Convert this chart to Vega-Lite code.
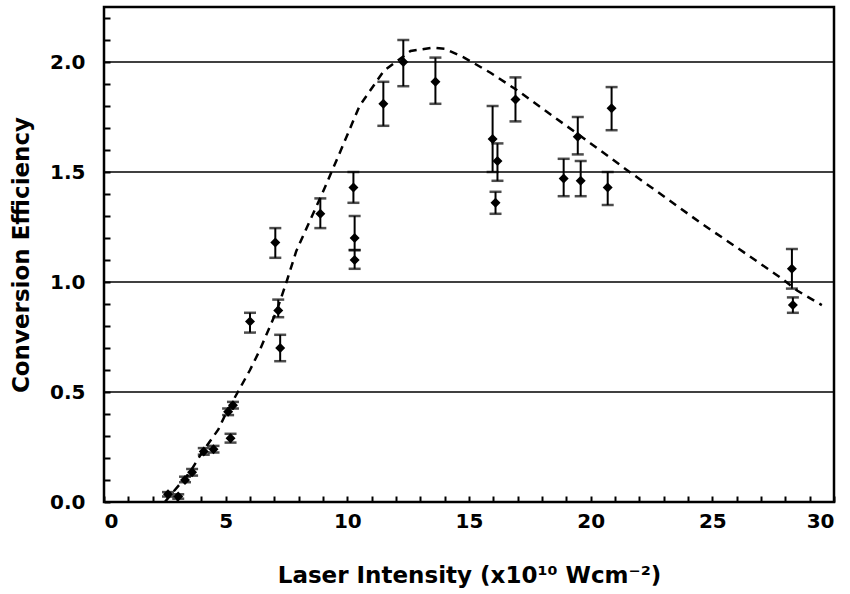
{
  "$schema": "https://vega.github.io/schema/vega-lite/v6.json",
  "width": 730,
  "height": 495,
  "autosize": {"type": "none"},
  "padding": {"left": 104, "top": 7, "right": 16, "bottom": 92},
  "background": "white",
  "config": {
    "view": {"stroke": "black", "strokeWidth": 2.5},
    "font": "DejaVu Sans",
    "axis": {
      "labelOverlap": false,
      "labelFont": "DejaVu Sans",
      "labelFontWeight": "bold",
      "labelFontSize": 20,
      "labelColor": "black",
      "titleFont": "DejaVu Sans",
      "titleFontWeight": "bold",
      "titleFontSize": 23,
      "titleColor": "black",
      "ticks": true,
      "tickColor": "black",
      "tickWidth": 2,
      "tickSize": 6,
      "offset": -6,
      "domain": false,
      "grid": false
    },
    "axisX": {"labelPadding": 9, "titlePadding": 33},
    "axisY": {"labelPadding": 19, "titlePadding": 16}
  },
  "datasets": {
    "pts": [
      {"x": 2.63, "y": 0.035, "lo": 0.025, "hi": 0.045},
      {"x": 3.05, "y": 0.025, "lo": 0.015, "hi": 0.035},
      {"x": 3.33, "y": 0.1, "lo": 0.09, "hi": 0.115},
      {"x": 3.62, "y": 0.135, "lo": 0.12, "hi": 0.15},
      {"x": 4.1, "y": 0.23, "lo": 0.215, "hi": 0.245},
      {"x": 4.5, "y": 0.24, "lo": 0.225, "hi": 0.255},
      {"x": 5.1, "y": 0.41, "lo": 0.395, "hi": 0.425},
      {"x": 5.3, "y": 0.44, "lo": 0.425, "hi": 0.455},
      {"x": 5.2, "y": 0.29, "lo": 0.27, "hi": 0.31},
      {"x": 6.0, "y": 0.82, "lo": 0.77, "hi": 0.86},
      {"x": 7.04, "y": 1.18, "lo": 1.11, "hi": 1.245},
      {"x": 7.16, "y": 0.87, "lo": 0.84, "hi": 0.92},
      {"x": 7.24, "y": 0.7, "lo": 0.64, "hi": 0.76},
      {"x": 8.89, "y": 1.31, "lo": 1.245, "hi": 1.38},
      {"x": 10.25, "y": 1.43, "lo": 1.36, "hi": 1.5},
      {"x": 10.3, "y": 1.2, "lo": 1.145, "hi": 1.3},
      {"x": 10.3, "y": 1.1, "lo": 1.06, "hi": 1.145},
      {"x": 11.48, "y": 1.81, "lo": 1.71, "hi": 1.91},
      {"x": 12.3, "y": 2.0, "lo": 1.89, "hi": 2.1},
      {"x": 13.62, "y": 1.91, "lo": 1.81, "hi": 2.02},
      {"x": 15.97, "y": 1.65, "lo": 1.5, "hi": 1.8},
      {"x": 16.17, "y": 1.55, "lo": 1.46, "hi": 1.63},
      {"x": 16.09, "y": 1.36, "lo": 1.31, "hi": 1.41},
      {"x": 16.91, "y": 1.83, "lo": 1.73, "hi": 1.93},
      {"x": 18.89, "y": 1.47, "lo": 1.39, "hi": 1.56},
      {"x": 19.59, "y": 1.46, "lo": 1.39, "hi": 1.55},
      {"x": 19.47, "y": 1.66, "lo": 1.58, "hi": 1.75},
      {"x": 20.7, "y": 1.43, "lo": 1.35, "hi": 1.5},
      {"x": 20.86, "y": 1.79, "lo": 1.69, "hi": 1.886},
      {"x": 28.27, "y": 1.06, "lo": 0.97, "hi": 1.15},
      {"x": 28.31, "y": 0.895, "lo": 0.86, "hi": 0.93}
    ],
    "curve": [
      {"x": 2.5, "y": 0.0},
      {"x": 2.8, "y": 0.04},
      {"x": 3.5, "y": 0.13},
      {"x": 4.0, "y": 0.22},
      {"x": 4.7, "y": 0.33},
      {"x": 5.0, "y": 0.4},
      {"x": 5.5, "y": 0.5},
      {"x": 6.0, "y": 0.6},
      {"x": 6.4, "y": 0.69},
      {"x": 7.1, "y": 0.87},
      {"x": 7.5, "y": 1.0},
      {"x": 7.9, "y": 1.14},
      {"x": 8.47, "y": 1.28},
      {"x": 9.0, "y": 1.41},
      {"x": 9.7, "y": 1.59},
      {"x": 10.5, "y": 1.8},
      {"x": 11.5, "y": 1.96},
      {"x": 12.6, "y": 2.05},
      {"x": 13.5, "y": 2.065},
      {"x": 14.0, "y": 2.06},
      {"x": 14.8, "y": 2.02},
      {"x": 15.9, "y": 1.95},
      {"x": 17.0, "y": 1.87},
      {"x": 18.5, "y": 1.75},
      {"x": 20.0, "y": 1.63},
      {"x": 21.6, "y": 1.5},
      {"x": 23.0, "y": 1.39},
      {"x": 24.5, "y": 1.27},
      {"x": 26.1, "y": 1.15},
      {"x": 27.8, "y": 1.02},
      {"x": 28.5, "y": 0.96},
      {"x": 29.5, "y": 0.895}
    ],
    "grid": [{"v": 0.5}, {"v": 1.0}, {"v": 1.5}, {"v": 2.0}]
  },
  "layer": [
    {
      "data": {"name": "grid"},
      "mark": {"type": "rule", "color": "black", "strokeWidth": 1.3},
      "encoding": {
        "y": {
          "field": "v",
          "type": "quantitative",
          "scale": {"domain": [0, 2.25], "nice": false, "zero": false},
          "title": "Conversion Efficiency",
          "axis": {
            "values": [0, 0.1, 0.2, 0.3, 0.4, 0.5, 0.6, 0.7, 0.8, 0.9, 1.0, 1.1, 1.2, 1.3, 1.4, 1.5, 1.6, 1.7, 1.8, 1.9, 2.0, 2.1, 2.2],
            "labelExpr": "abs(datum.value*2 - round(datum.value*2)) < 0.001 ? format(datum.value, '.1f') : ''"
          }
        }
      }
    },
    {
      "data": {"name": "curve"},
      "mark": {"type": "line", "color": "black", "strokeWidth": 2.5, "strokeDash": [8, 6]},
      "encoding": {
        "x": {
          "field": "x",
          "type": "quantitative",
          "scale": {"domain": [0, 30], "nice": false, "zero": false},
          "title": "Laser Intensity (x10¹⁰ Wcm⁻²)",
          "axis": {
            "values": [0, 1, 2, 3, 4, 5, 6, 7, 8, 9, 10, 11, 12, 13, 14, 15, 16, 17, 18, 19, 20, 21, 22, 23, 24, 25, 26, 27, 28, 29, 30],
            "labelExpr": "datum.value % 5 === 0 ? datum.label : ''"
          }
        },
        "y": {
          "field": "y",
          "type": "quantitative",
          "title": "Conversion Efficiency",
          "axis": {
            "values": [0, 0.1, 0.2, 0.3, 0.4, 0.5, 0.6, 0.7, 0.8, 0.9, 1.0, 1.1, 1.2, 1.3, 1.4, 1.5, 1.6, 1.7, 1.8, 1.9, 2.0, 2.1, 2.2],
            "labelExpr": "abs(datum.value*2 - round(datum.value*2)) < 0.001 ? format(datum.value, '.1f') : ''"
          }
        }
      }
    },
    {
      "data": {"name": "pts"},
      "mark": {"type": "rule", "color": "black", "strokeWidth": 2},
      "encoding": {
        "x": {
          "field": "x",
          "type": "quantitative",
          "title": "Laser Intensity (x10¹⁰ Wcm⁻²)",
          "axis": {
            "values": [0, 1, 2, 3, 4, 5, 6, 7, 8, 9, 10, 11, 12, 13, 14, 15, 16, 17, 18, 19, 20, 21, 22, 23, 24, 25, 26, 27, 28, 29, 30],
            "labelExpr": "datum.value % 5 === 0 ? datum.label : ''"
          }
        },
        "y": {
          "field": "lo",
          "type": "quantitative",
          "title": "Conversion Efficiency",
          "axis": {
            "values": [0, 0.1, 0.2, 0.3, 0.4, 0.5, 0.6, 0.7, 0.8, 0.9, 1.0, 1.1, 1.2, 1.3, 1.4, 1.5, 1.6, 1.7, 1.8, 1.9, 2.0, 2.1, 2.2],
            "labelExpr": "abs(datum.value*2 - round(datum.value*2)) < 0.001 ? format(datum.value, '.1f') : ''"
          }
        },
        "y2": {"field": "hi"}
      }
    },
    {
      "data": {"name": "pts"},
      "mark": {"type": "tick", "color": "black", "orient": "horizontal", "size": 12, "thickness": 2.5},
      "encoding": {
        "x": {
          "field": "x",
          "type": "quantitative",
          "title": "Laser Intensity (x10¹⁰ Wcm⁻²)",
          "axis": {
            "values": [0, 1, 2, 3, 4, 5, 6, 7, 8, 9, 10, 11, 12, 13, 14, 15, 16, 17, 18, 19, 20, 21, 22, 23, 24, 25, 26, 27, 28, 29, 30],
            "labelExpr": "datum.value % 5 === 0 ? datum.label : ''"
          }
        },
        "y": {
          "field": "lo",
          "type": "quantitative",
          "title": "Conversion Efficiency",
          "axis": {
            "values": [0, 0.1, 0.2, 0.3, 0.4, 0.5, 0.6, 0.7, 0.8, 0.9, 1.0, 1.1, 1.2, 1.3, 1.4, 1.5, 1.6, 1.7, 1.8, 1.9, 2.0, 2.1, 2.2],
            "labelExpr": "abs(datum.value*2 - round(datum.value*2)) < 0.001 ? format(datum.value, '.1f') : ''"
          }
        }
      }
    },
    {
      "data": {"name": "pts"},
      "mark": {"type": "tick", "color": "black", "orient": "horizontal", "size": 12, "thickness": 2.5},
      "encoding": {
        "x": {
          "field": "x",
          "type": "quantitative",
          "title": "Laser Intensity (x10¹⁰ Wcm⁻²)",
          "axis": {
            "values": [0, 1, 2, 3, 4, 5, 6, 7, 8, 9, 10, 11, 12, 13, 14, 15, 16, 17, 18, 19, 20, 21, 22, 23, 24, 25, 26, 27, 28, 29, 30],
            "labelExpr": "datum.value % 5 === 0 ? datum.label : ''"
          }
        },
        "y": {
          "field": "hi",
          "type": "quantitative",
          "title": "Conversion Efficiency",
          "axis": {
            "values": [0, 0.1, 0.2, 0.3, 0.4, 0.5, 0.6, 0.7, 0.8, 0.9, 1.0, 1.1, 1.2, 1.3, 1.4, 1.5, 1.6, 1.7, 1.8, 1.9, 2.0, 2.1, 2.2],
            "labelExpr": "abs(datum.value*2 - round(datum.value*2)) < 0.001 ? format(datum.value, '.1f') : ''"
          }
        }
      }
    },
    {
      "data": {"name": "pts"},
      "mark": {"type": "point", "shape": "diamond", "filled": true, "color": "black", "size": 100, "opacity": 1},
      "encoding": {
        "x": {
          "field": "x",
          "type": "quantitative",
          "title": "Laser Intensity (x10¹⁰ Wcm⁻²)",
          "axis": {
            "values": [0, 1, 2, 3, 4, 5, 6, 7, 8, 9, 10, 11, 12, 13, 14, 15, 16, 17, 18, 19, 20, 21, 22, 23, 24, 25, 26, 27, 28, 29, 30],
            "labelExpr": "datum.value % 5 === 0 ? datum.label : ''"
          }
        },
        "y": {
          "field": "y",
          "type": "quantitative",
          "title": "Conversion Efficiency",
          "axis": {
            "values": [0, 0.1, 0.2, 0.3, 0.4, 0.5, 0.6, 0.7, 0.8, 0.9, 1.0, 1.1, 1.2, 1.3, 1.4, 1.5, 1.6, 1.7, 1.8, 1.9, 2.0, 2.1, 2.2],
            "labelExpr": "abs(datum.value*2 - round(datum.value*2)) < 0.001 ? format(datum.value, '.1f') : ''"
          }
        }
      }
    }
  ]
}
